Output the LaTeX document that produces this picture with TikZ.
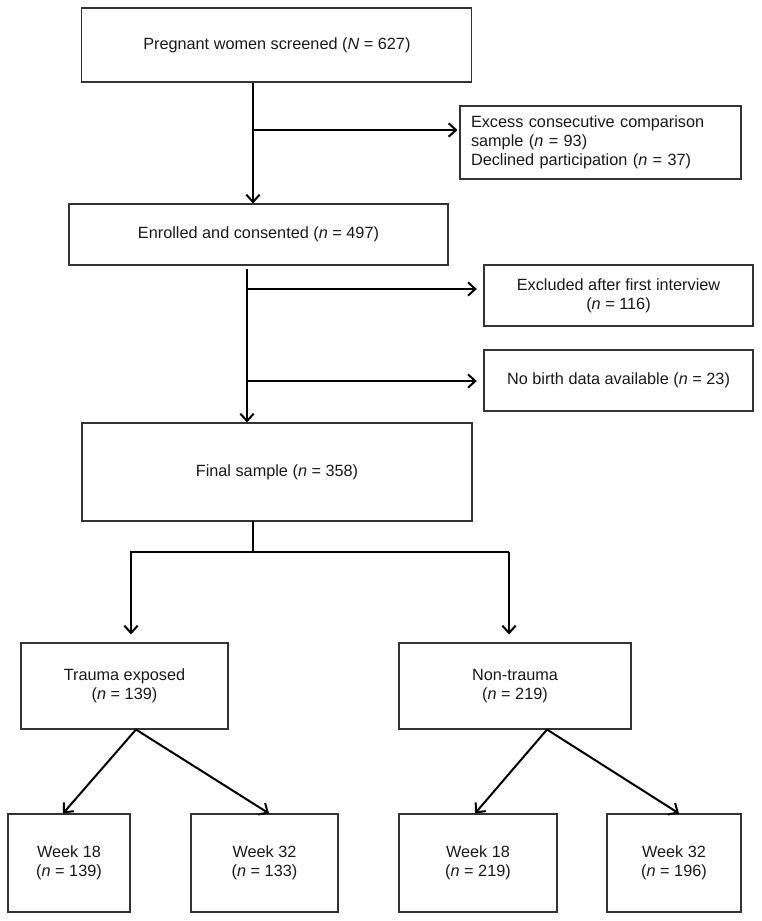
\documentclass[tikz,border=0pt]{standalone}
\usepackage{fontspec}
\setmainfont{Liberation Sans}
\usetikzlibrary{arrows.meta}
\tikzset{box/.style={draw=black!80,line width=0.8pt,inner sep=0pt,align=center,text=black!90,font=\fontsize{12.2}{14.4}\selectfont},
         flow/.style={line width=1.5pt,-{Straight Barb[length=5.5pt,width=10pt]}},
         trunk/.style={line width=1.5pt,line cap=rect}}

\begin{document}
\begin{tikzpicture}[x=0.75pt,y=-0.75pt] % 1 unit = 1 px of the original
            \useasboundingbox (0,0) rectangle (762,921);
            \node[box,minimum width=292.5pt,minimum height=55.5pt] (screen) at (276.85,45) {Pregnant women screened (\textit{N} = 627)};
            \node[box,align=left,inner xsep=8.25pt,text width=194.25pt,minimum height=54.75pt] (excess) at (600.5,142.5) {Excess consecutive comparison\\sample (\textit{n} = 93)\\Declined participation (\textit{n} = 37)};
            \node[box,minimum width=284.25pt,minimum height=45.75pt] (enrol) at (258.5,234.5) {Enrolled and consented (\textit{n} = 497)};
            \node[box,minimum width=201.75pt,minimum height=45.75pt] (excl) at (618.5,295.5) {Excluded after first interview\\(\textit{n} = 116)};
            \node[box,minimum width=201.75pt,minimum height=45.75pt] (nobirth) at (618.5,380.5) {No birth data available (\textit{n} = 23)};
            \node[box,minimum width=292.5pt,minimum height=73.5pt] (final) at (277,472) {Final sample (\textit{n} = 358)};
            \node[box,minimum width=155.25pt,minimum height=64.5pt] (trauma) at (124.5,686) {Trauma exposed\\(\textit{n} = 139)};
            \node[box,minimum width=174pt,minimum height=64.5pt] (nontrauma) at (515,686) {Non-trauma\\(\textit{n} = 219)};
            \node[box,minimum width=91.5pt,minimum height=73.5pt] (tweek18) at (69,863) {Week 18\\(\textit{n} = 139)};
            \node[box,minimum width=110.25pt,minimum height=73.5pt] (tweek32) at (264.5,863) {Week 32\\(\textit{n} = 133)};
            \node[box,minimum width=118.5pt,minimum height=73.5pt] (nweek18) at (478,863) {Week 18\\(\textit{n} = 219)};
            \node[box,minimum width=100.5pt,minimum height=73.5pt] (nweek32) at (674,863) {Week 32\\(\textit{n} = 196)};
            \coordinate (split1) at (253,130);
            \coordinate (split2) at (247,269);
            \coordinate (split3) at (247,289);
            \coordinate (split4) at (247,381);
            \coordinate (fork) at (253,552);
            \coordinate (forkl) at (131,552);
            \coordinate (forkr) at (509,552);
            \draw[flow] (screen.south -| split1) -- (enrol.north -| split1);
            \draw[flow,shorten >=1.5pt] (split1) -- (split1 -| excess.west);
            \draw[flow] (split2) -- (final.north -| split2);
            \draw[flow,shorten >=5pt] (split3) -- (split3 -| excl.west);
            \draw[flow,shorten >=5pt] (split4) -- (split4 -| nobirth.west);
            \draw[trunk] (final.south -| fork) -- (fork);
            \draw[flow,shorten >=6pt] (forkr) -- (forkl) -- (trauma.north -| forkl);
            \draw[flow,shorten >=6pt] (forkr) -- (nontrauma.north -| forkr);
            \draw[flow] ([xshift=8.6pt]trauma.south) -- ([xshift=-4.5pt]tweek18.north);
            \draw[flow] ([xshift=8.6pt]trauma.south) -- ([xshift=3.4pt]tweek32.north);
            \draw[flow] ([xshift=24pt]nontrauma.south) -- ([xshift=-2.25pt]nweek18.north);
            \draw[flow] ([xshift=24pt]nontrauma.south) -- ([xshift=3.75pt]nweek32.north);
\end{tikzpicture}
\end{document}
